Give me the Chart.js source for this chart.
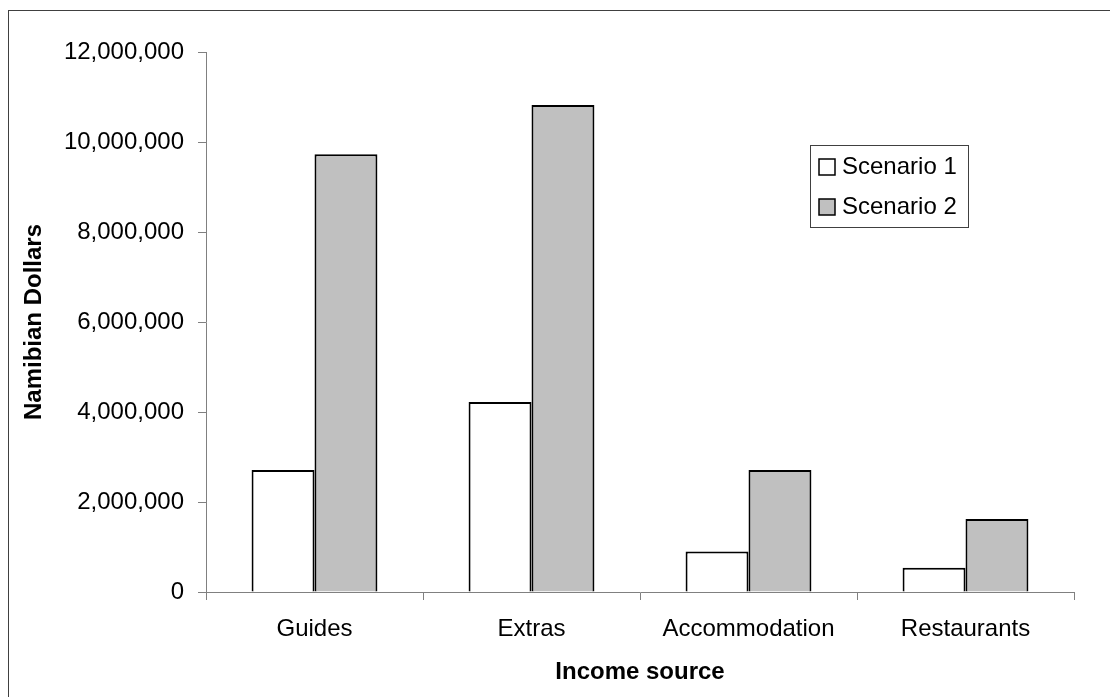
<!DOCTYPE html>
<html>
<head>
<meta charset="utf-8">
<script src="https://cdn.jsdelivr.net/npm/chart.js@4.4.1/dist/chart.umd.min.js"></script>
<style>
  html, body { margin: 0; padding: 0; background: #ffffff; }
  #wrap { width: 1110px; height: 697px; position: relative; }
</style>
</head>
<body>
<div id="wrap"><canvas id="c" width="1110" height="697"></canvas></div>
<script>
// Income by source under two scenarios (Namibian Dollars)
const categories = ['Guides', 'Extras', 'Accommodation', 'Restaurants'];
const scenario1 = [2710000, 4220000, 900000, 540000];
const scenario2 = [9730000, 10820000, 2710000, 1620000];
const seriesNames = ['Scenario 1', 'Scenario 2'];
const yTicks = [0, 2000000, 4000000, 6000000, 8000000, 10000000, 12000000];

const FONT = '"Liberation Sans", Arial, Helvetica, sans-serif';
const AXIS_GREY = '#808080';

// Outer frame and the boxed legend inside the plot
const framePlugin = {
  id: 'frame',
  beforeDraw(chart) {
    const ctx = chart.ctx;
    ctx.save();
    ctx.fillStyle = '#ffffff';
    ctx.fillRect(0, 0, chart.width, chart.height);
    ctx.strokeStyle = '#404040';
    ctx.lineWidth = 1;
    ctx.strokeRect(8.5, 10.5, chart.width + 50, chart.height + 50);
    ctx.restore();
  }
};

const boxLegend = {
  id: 'boxLegend',
  afterDraw(chart) {
    const ctx = chart.ctx;
    const x = 810, y = 145, w = 158, h = 82;
    ctx.save();
    ctx.fillStyle = '#ffffff';
    ctx.fillRect(x, y, w, h);
    ctx.strokeStyle = '#404040';
    ctx.lineWidth = 1;
    ctx.strokeRect(x + 0.5, y + 0.5, w, h);
    ctx.font = '24px ' + FONT;
    ctx.textBaseline = 'middle';
    ctx.textAlign = 'left';
    chart.data.datasets.forEach((ds, i) => {
      const cy = 167 + i * 40;
      ctx.fillStyle = ds.backgroundColor;
      ctx.fillRect(819, cy - 8, 16, 16);
      ctx.strokeStyle = '#000000';
      ctx.lineWidth = 1.5;
      ctx.strokeRect(819, cy - 8, 16, 16);
      ctx.fillStyle = '#000000';
      ctx.fillText(ds.label, 842, cy);
    });
    ctx.restore();
  }
};

new Chart(document.getElementById('c'), {
  type: 'bar',
  data: {
    labels: categories,
    datasets: [
      { label: seriesNames[0], data: scenario1, backgroundColor: '#ffffff', borderColor: '#000000', borderWidth: 2 },
      { label: seriesNames[1], data: scenario2, backgroundColor: '#c0c0c0', borderColor: '#000000', borderWidth: 2 }
    ]
  },
  options: {
    responsive: false,
    animation: false,
    devicePixelRatio: 1,
    categoryPercentage: 0.58,
    barPercentage: 1.0,
    layout: { padding: { left: 0, top: 52, right: 36, bottom: 0 } },
    plugins: {
      legend: { display: false },
      tooltip: { enabled: false }
    },
    scales: {
      x: {
        grid: { display: true, drawOnChartArea: false, drawTicks: true, tickLength: 8, color: AXIS_GREY, offset: true },
        border: { display: true, color: AXIS_GREY, width: 1 },
        ticks: { color: '#000000', font: { family: FONT, size: 24 }, padding: 15, maxRotation: 0 },
        title: { display: true, text: 'Income source', color: '#000000', font: { family: FONT, size: 24, weight: 'bold' }, padding: { top: 0, bottom: 10 } },
        afterFit(scale) { scale.height = 105; }
      },
      y: {
        min: 0,
        max: 12000000,
        afterBuildTicks(scale) { scale.ticks = yTicks.map(v => ({ value: v })); },
        grid: { display: true, drawOnChartArea: false, drawTicks: true, tickLength: 8, color: AXIS_GREY },
        border: { display: true, color: AXIS_GREY, width: 1 },
        ticks: {
          color: '#000000',
          font: { family: FONT, size: 24 },
          padding: 14,
          callback: v => Number(v).toLocaleString('en-US')
        },
        title: { display: true, text: 'Namibian Dollars', color: '#000000', font: { family: FONT, size: 24, weight: 'bold' }, padding: { top: 20, bottom: 0 } },
        afterFit(scale) { scale.width = 206; }
      }
    }
  },
  plugins: [framePlugin, boxLegend]
});
</script>
</body>
</html>
